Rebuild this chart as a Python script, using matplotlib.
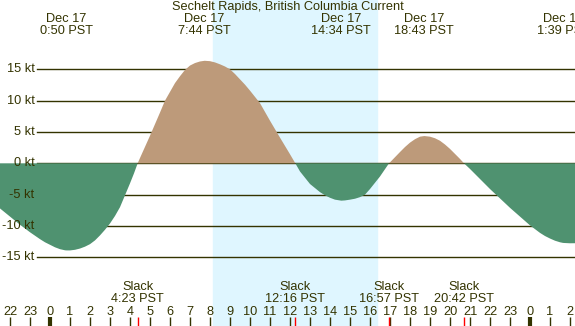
import matplotlib
matplotlib.use("Agg")
import matplotlib.pyplot as plt
import numpy as np

# current speed (kt), hours from midnight Dec 17
hours = [-2.5, -2.0, -1.75, -1.5, -1.25, -1.0, -0.75, -0.5, -0.25, 0.0, 0.25, 0.5, 0.75, 0.833, 1.0, 1.25,
         1.5, 1.75, 2.0, 2.25, 2.5, 2.75, 3.0, 3.25, 3.5, 3.75, 4.0, 4.2, 4.383,
         4.5, 5.0, 5.5, 5.75, 6.0, 6.25, 6.5, 6.75, 7.0, 7.25, 7.5, 7.733, 8.0, 8.25, 8.5, 8.75,
         9.0, 9.25, 9.5, 9.75, 10.0, 10.5, 11.0, 11.5, 12.0, 12.267,
         12.5, 13.0, 13.5, 13.75, 14.0, 14.25, 14.567, 14.75, 15.0, 15.25, 15.5, 15.75, 16.0, 16.25, 16.5, 16.95,
         17.0, 17.5, 17.75, 18.0, 18.25, 18.5, 18.717, 19.0, 19.25, 19.5, 19.75, 20.0, 20.5, 20.7,
         21.0, 21.5, 22.0, 22.5, 23.0, 23.5, 24.0, 24.5, 24.75, 25.0, 25.25, 25.5, 25.65, 25.75, 26.0, 26.25]
knots = [-7.2, -8.5, -9.15, -9.8, -10.4, -11.0, -11.55, -12.1, -12.6, -13.0, -13.4, -13.7, -13.88, -13.9, -13.9, -13.8,
         -13.6, -13.3, -12.9, -12.3, -11.5, -10.6, -9.6, -8.4, -7.0, -5.1, -3.2, -1.6, 0.0,
         0.85, 4.4, 8.1, 10.0, 11.4, 12.8, 13.9, 14.9, 15.6, 16.0, 16.25, 16.36, 16.3, 16.1, 15.8, 15.45,
         15.0, 14.25, 13.4, 12.55, 11.6, 9.6, 6.8, 4.1, 1.45, 0.0,
         -1.3, -3.3, -4.6, -5.1, -5.5, -5.8, -5.96, -5.92, -5.8, -5.65, -5.4, -5.0, -4.1, -3.1, -2.1, 0.0,
         0.15, 1.8, 2.6, 3.3, 3.85, 4.25, 4.35, 4.25, 4.0, 3.6, 3.0, 2.3, 0.7, 0.0,
         -0.9, -2.5, -4.1, -5.6, -7.1, -8.5, -9.9, -11.1, -11.6, -12.0, -12.35, -12.6, -12.7, -12.72, -12.76, -12.75]

# max / min events
ext_hours = [0.833, 7.733, 14.567, 18.717, 25.65]
ext_labels = ["0:50 PST", "7:44 PST", "14:34 PST", "18:43 PST", "1:39 PST"]

# slack events
slack_hours = [4.383, 12.267, 16.95, 20.7]
slack_labels = ["4:23 PST", "12:16 PST", "16:57 PST", "20:42 PST"]

sunrise = 8.15
sunset = 16.35

ygrid = [15, 10, 5, 0, -5, -10, -15]
title = "Sechelt Rapids, British Columbia Current"

night = "#B0C4DE"
day = "#DFF6FF"
flood = "#BD9A7A"
ebb = "#4F9270"
ink = "#333300"

plt.rcParams['font.family'] = ['Liberation Sans', 'DejaVu Sans']
fs = 9.2

fig = plt.figure(figsize=(5.75, 3.26), dpi=100)
ax = fig.add_axes([0, 0, 1, 1])
ax.set_xlim(-2.5, 26.25)
ax.set_ylim(-25.96, 26.06)
ax.set_facecolor(night)
ax.axis("off")
ax.patch.set_visible(True)

ax.axvspan(sunrise, sunset, color=day, zorder=0)

# horizontal lines, starting right of the labels
x_line = -2.5 + 37 / 20.0
for v in ygrid:
    ax.plot([x_line, 26.25], [v, v], color=ink, lw=1, zorder=1)
    ax.text(x_line - 0.12, v, "%d kt" % v, ha="right", va="center", fontsize=fs, color=ink, zorder=5)

h = np.array(hours)
k = np.array(knots)
ax.fill_between(h, 0, k, where=k >= 0, interpolate=True, color=flood, lw=0, zorder=2)
ax.fill_between(h, 0, k, where=k <= 0, interpolate=True, color=ebb, lw=0, zorder=2)

# top labels
ax.text(11.875, 25.0, title, ha="center", va="center", fontsize=fs, color=ink, zorder=6)
for t, lab in zip(ext_hours, ext_labels):
    ax.text(t, 23.1, "Dec 17", ha="center", va="center", fontsize=fs, color=ink, zorder=6)
    ax.text(t, 21.1, lab, ha="center", va="center", fontsize=fs, color=ink, zorder=6)

# slack labels
for t, lab in zip(slack_hours, slack_labels):
    ax.text(t, -19.8, "Slack", ha="center", va="center", fontsize=fs, color=ink, zorder=6)
    ax.text(t, -21.7, lab, ha="center", va="center", fontsize=fs, color=ink, zorder=6)

# hour axis along the bottom
tick_top = -24.5
for hr in range(-2, 27):
    ax.text(hr, -23.7, str(hr % 24), ha="center", va="center", fontsize=fs, color=ink, zorder=6)
    lw = 3 if hr % 24 == 0 else 1
    ax.plot([hr, hr], [tick_top, -25.96], color=ink, lw=lw, zorder=6, solid_capstyle="butt")
for t in slack_hours:
    ax.plot([t, t], [tick_top, -25.96], color="red", lw=1, zorder=7, solid_capstyle="butt")

fig.savefig("out.png", dpi=100)
